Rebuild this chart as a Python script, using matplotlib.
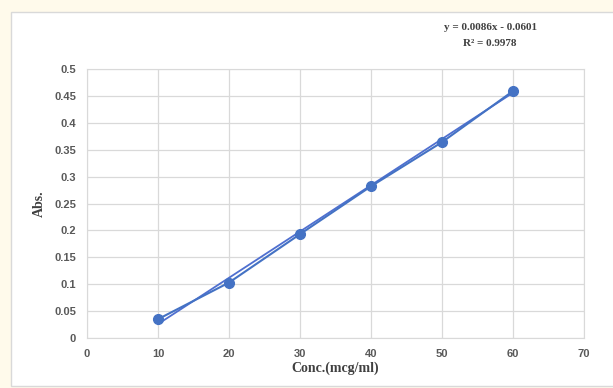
import matplotlib
matplotlib.use("Agg")
from matplotlib import pyplot as plt
from matplotlib.patches import Rectangle
import numpy as np

# calibration data
conc = [10, 20, 30, 40, 50, 60]
absorb = [0.035, 0.103, 0.193, 0.282, 0.364, 0.459]
slope, intercept = 0.0086, -0.0601
x_ticks = [0, 10, 20, 30, 40, 50, 60, 70]
y_ticks = [0, 0.05, 0.1, 0.15, 0.2, 0.25, 0.3, 0.35, 0.4, 0.45, 0.5]
y_labels = ['0', '0.05', '0.1', '0.15', '0.2', '0.25', '0.3', '0.35', '0.4', '0.45', '0.5']

fig = plt.figure(figsize=(6.13, 3.88), dpi=100)
fig.patch.set_facecolor('#fffaeb')
# white chart box with thin border, kept behind the axes
fig.patches.append(Rectangle((11/613, 0.005), 0.99, 1 - 12/388 - 0.005, transform=fig.transFigure,
                             facecolor='white', edgecolor='#d9d9d9', lw=1, zorder=-5))

ax = fig.add_axes([87/613, 50/388, 497/613, 269/388])
ax.set_facecolor('none')
ax.set_xlim(0, 70)
ax.set_ylim(0, 0.5)
ax.set_xticks(x_ticks)
ax.set_yticks(y_ticks)
ax.set_yticklabels(y_labels)
ax.grid(True, color='#d9d9d9', lw=0.9)
ax.set_axisbelow(True)
for s in ax.spines.values():
    s.set_color('#d9d9d9')
ax.tick_params(length=0, pad=8, colors='#595959', labelsize=8)
for lab in ax.get_xticklabels() + ax.get_yticklabels():
    lab.set_fontweight('bold')
    lab.set_family('Liberation Sans')

# trendline
tx = np.array([conc[0], conc[-1]])
ax.plot(tx, slope * tx + intercept, color='#4f6fd0', lw=1.3, zorder=2)
ax.plot(conc, absorb, color='#4472c4', lw=1.5, marker='o', ms=7, zorder=3)

ax.set_xlabel('Conc.(mcg/ml)', family='Liberation Serif', fontweight='bold',
              fontsize=10, color='#404040', labelpad=2)
ax.set_ylabel('Abs.', family='Liberation Serif', fontweight='bold',
              fontsize=10, color='#404040', labelpad=6)

fig.text(490/613, 1 - 28/388, 'y = 0.0086x - 0.0601', ha='center', va='center',
         family='Liberation Serif', fontweight='bold', fontsize=8, color='#404040')
fig.text(490/613, 1 - 44/388, 'R² = 0.9978', ha='center', va='center',
         family='Liberation Serif', fontweight='bold', fontsize=8, color='#404040')

fig.savefig('out.png', dpi=100, facecolor=fig.get_facecolor())
